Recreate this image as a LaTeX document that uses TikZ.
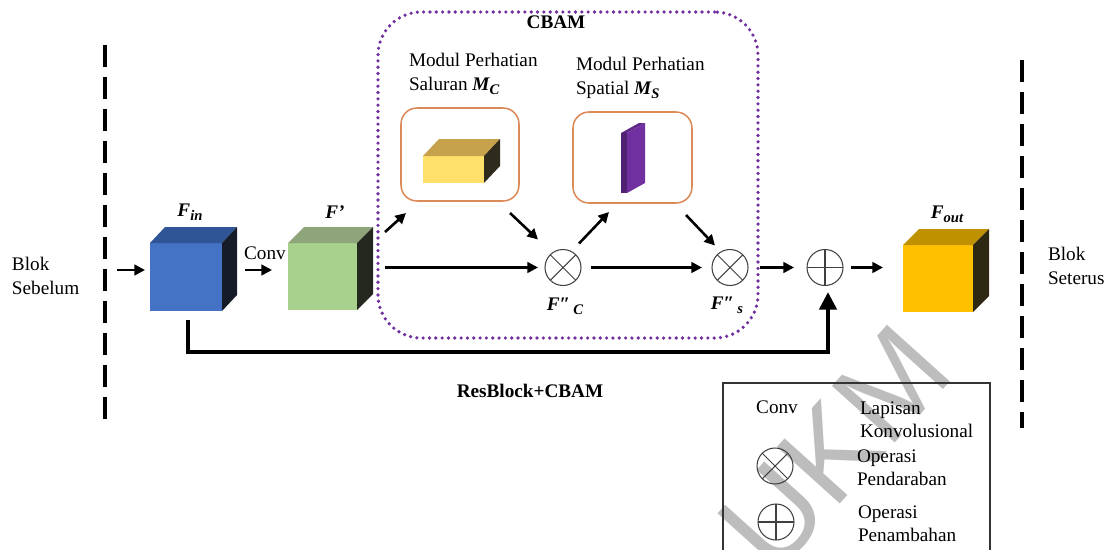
\documentclass[tikz,border=0pt]{standalone}
\usepackage{fontspec}
\setmainfont{Liberation Serif}
\newfontfamily\wmfont{Liberation Sans}
\usetikzlibrary{arrows.meta,calc}
\definecolor{cbamc}{HTML}{7030A0}
\definecolor{modc}{HTML}{DC8A58}
\definecolor{bluef}{HTML}{4472C4}
\definecolor{bluet}{HTML}{2F5597}
\definecolor{blues}{HTML}{161C27}
\definecolor{greenf}{HTML}{A9D18E}
\definecolor{greent}{HTML}{8EA57B}
\definecolor{greens}{HTML}{25281F}
\definecolor{goldf}{HTML}{FFC000}
\definecolor{goldt}{HTML}{BF9000}
\definecolor{golds}{HTML}{2E2812}
\definecolor{yelf}{HTML}{FFE06A}
\definecolor{yelt}{HTML}{C5A24B}
\definecolor{yels}{HTML}{2E2B1C}
\definecolor{purf}{HTML}{4E2270}
\definecolor{purs}{HTML}{7030A0}
\definecolor{purt}{HTML}{5C2785}
\definecolor{wmgray}{HTML}{BDBDBD}
\newcommand{\lsub}[1]{\raisebox{-0.45ex}{\fontsize{12.5}{13}\selectfont #1}}
\newcommand{\cubefaces}[5]{%
  \fill[#2] (#1.north west) -- ++(#4,-#5) -- ($(#1.north east)+(#4,-#5)$) -- (#1.north east) -- cycle;
  \fill[#3] (#1.north east) -- ++(#4,-#5) -- ($(#1.south east)+(#4,-#5)$) -- (#1.south east) -- cycle;}
\begin{document}
\begin{tikzpicture}[x=0.03cm,y=-0.03cm,
  every node/.style={inner sep=0pt, outer sep=0pt, font=\fontsize{16.4}{20}\selectfont},
  face/.style={rectangle, draw=none},
  arr/.style={line width=2.2pt, -{Triangle[length=9pt,width=9pt]}},
  bigarr/.style={line width=2.8pt, -{Triangle[length=15pt,width=15pt]}},
  opnode/.style={circle, draw=black!75, line width=0.9pt, minimum size=1.08cm},
  opline/.style={draw=black!75, line width=0.9pt},
  modbox/.style={draw=modc, line width=1.3pt, rounded corners=0.48cm},
  dashline/.style={line width=2.6pt, dash pattern=on 0.66cm off 0.3cm},
  lbl/.style={font=\fontsize{16.4}{20}\selectfont\bfseries\itshape},
  bold/.style={font=\fontsize{16.4}{20}\selectfont\bfseries}]
\useasboundingbox (0,0) rectangle (1109,549);

% watermark
\begin{scope}
\clip (0,0) rectangle (1109,549);
\node[rotate=48, text=wmgray, font=\wmfont\fontsize{105}{105}\selectfont] (wm) at (835,448) {UKM};
\end{scope}

% dashed separators
\coordinate (dl1) at (105,45); \coordinate (dl2) at (105,422);
\coordinate (dr1) at (1022,60); \coordinate (dr2) at (1022,428);
\draw[dashline] (dl1) -- (dl2);
\draw[dashline] (dr1) -- (dr2);

\node[anchor=west, align=left] (sebelum) at (12,276) {Blok\\Sebelum};
\node[anchor=west, align=left] (seterus) at (1048,266) {Blok\\Seterus};

% cubes
\node[face, fill=bluef, minimum width=2.16cm, minimum height=2.04cm] (fin) at (186,277) {};
\cubefaces{fin}{bluet}{blues}{15}{16}
\node[face, fill=greenf, minimum width=2.07cm, minimum height=2.01cm] (fp) at (322.5,276.5) {};
\cubefaces{fp}{greent}{greens}{16}{16}
\node[face, fill=goldf, minimum width=2.1cm, minimum height=2.01cm] (fout) at (938,278.5) {};
\cubefaces{fout}{goldt}{golds}{16}{16}

\node[lbl] (lfin) at (190,212) {F\lsub{in}};
\node[lbl] (lfp) at (335,212) {F’};
\node[lbl] (lfout) at (947,214) {F\lsub{out}};
\node[lbl] (lfc) at (565,306) {F″\,\lsub{C}};
\node[lbl] (lfs) at (727,305) {F″\,\lsub{s}};
\node (conv) at (265,253) {Conv};

% CBAM block
\node[draw=cbamc, line width=3.1pt, line cap=round, dash pattern=on 0pt off 5.4pt, rounded corners=1.3cm, minimum width=11.4cm, minimum height=9.78cm] (cbam) at (568,175) {};
\node[bold] (tcbam) at (556,22) {CBAM};

\node[modbox, minimum width=3.54cm, minimum height=2.79cm] (mc) at (460,154.5) {};
\node[modbox, minimum width=3.57cm, minimum height=2.73cm] (ms) at (632.5,157.5) {};
\node[anchor=west, align=left] (tmc) at (409,74) {Modul Perhatian\\Saluran {\bfseries\itshape M\lsub{C}}};
\node[anchor=west, align=left] (tms) at (576,78) {Modul Perhatian\\Spatial {\bfseries\itshape M\lsub{S}}};

\node[face, fill=yelf, minimum width=1.83cm, minimum height=0.81cm] (ycub) at (453.5,169.5) {};
\cubefaces{ycub}{yelt}{yels}{16}{17}
\node[face, fill=purf, minimum width=0.18cm, minimum height=1.8cm] (pslab) at (624,163) {};
\cubefaces{pslab}{purt}{purs}{18}{10}

% operators
\node[opnode] (otc) at (563,267.5) {};
\draw[opline] (otc.north west) -- (otc.south east) (otc.north east) -- (otc.south west);
\node[opnode] (ots) at (730,267.5) {};
\draw[opline] (ots.north west) -- (ots.south east) (ots.north east) -- (ots.south west);
\node[opnode] (opl) at (825,267.5) {};
\draw[opline] (opl.north) -- (opl.south) (opl.west) -- (opl.east);

% connectors
\coordinate (in0) at (117,270);
\draw[arr, shorten >=0.15cm] (in0) -- (in0 -| fin.west);
\coordinate (c1) at ([yshift=0.21cm]fin.east);
\draw[arr, shorten <=0.69cm, shorten >=0.48cm] (c1) -- (c1 -| fp.west);
\draw[arr] ([shift={(28,-11)}]fp.north east) -- ([shift={(5,12)}]mc.south west);
\coordinate (c2) at ([shift={(28,-9)}]fp.east);
\draw[arr, shorten >=0.21cm] (c2) -- (c2 -| otc.west);
\draw[arr] ([shift={(-9,12)}]mc.south east) -- ([shift={(-25,-28)}]otc.center);
\draw[arr] ([shift={(16,-24)}]otc.center) -- ([shift={(36,9)}]ms.south west);
\draw[arr] ([shift={(-6,12)}]ms.south east) -- ([shift={(-15,-22)}]ots.center);
\draw[arr, shorten <=0.3cm, shorten >=0.3cm] (otc.east) -- (ots.west);
\draw[arr, shorten <=0.36cm, shorten >=0.39cm] (ots.east) -- (opl.west);
\draw[arr, shorten <=0.24cm, shorten >=0.6cm] (opl.east) -- (opl.east -| fout.west);
\draw[bigarr, shorten >=0.2cm] ([shift={(2,9)}]fin.south) -- ([shift={(2,41)}]fin.south) -| ([xshift=0.09cm]opl.south);

\node[bold] (tres) at (530,391) {ResBlock+CBAM};

% legend
\node[draw=black!80, line width=0.9pt, minimum width=8.01cm, minimum height=5.4cm, anchor=north west] (legend) at (723,383) {};
\node (lconv) at (777,407) {Conv};
\node[anchor=west, align=left] (lt1) at (860,419.5) {Lapisan\\Konvolusional};
\node[opnode] (lot) at (775,466) {};
\draw[opline] (lot.north west) -- (lot.south east) (lot.north east) -- (lot.south west);
\node[anchor=west, align=left] (lt2) at (857,468) {Operasi\\Pendaraban};
\node[opnode] (lop) at (776,522) {};
\draw[opline] (lop.north) -- (lop.south) (lop.west) -- (lop.east);
\node[anchor=west, align=left] (lt3) at (858,524) {Operasi\\Penambahan};
\end{tikzpicture}
\end{document}
